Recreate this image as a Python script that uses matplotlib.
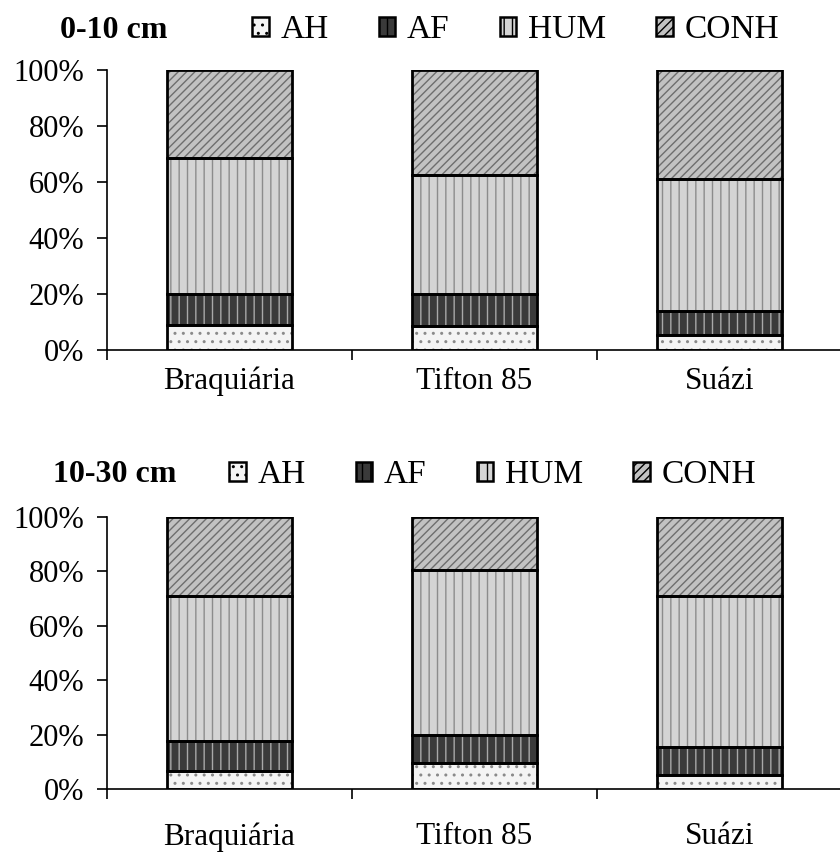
import matplotlib
matplotlib.use("Agg")
import matplotlib.pyplot as plt
from matplotlib.patches import Patch
import numpy as np

plt.rcParams['font.family'] = ['Liberation Serif', 'DejaVu Serif']
plt.rcParams['hatch.linewidth'] = 1.0

categories = ["Braquiária", "Tifton 85", "Suázi"]
series = ["AH", "AF", "HUM", "CONH"]

# 0-10 cm (percent)
top_AH = [9.0, 8.5, 5.5]
top_AF = [11.0, 11.5, 8.5]
top_HUM = [48.5, 42.5, 47.0]
top_CONH = [31.5, 37.5, 39.0]

# 10-30 cm (percent)
bot_AH = [6.5, 9.5, 5.0]
bot_AF = [11.0, 10.5, 10.5]
bot_HUM = [53.5, 60.5, 55.5]
bot_CONH = [29.0, 19.5, 29.0]

titles = ["0-10 cm", "10-30 cm"]
yticks = [0, 20, 40, 60, 80, 100]

styles = {
    "AH":   dict(fc="#f4f4f4", hc="#8a8a8a", hatch=".."),
    "AF":   dict(fc="#3a3a3a", hc="#a8a8a8", hatch="||"),
    "HUM":  dict(fc="#d4d4d4", hc="#8c8c8c", hatch="||"),
    "CONH": dict(fc="#c2c2c2", hc="#6e6e6e", hatch="////"),
}

fig = plt.figure(figsize=(8.4, 8.52), dpi=100)
W, H = 840, 852

def draw(ax_rect, data, title, leg_y, title_x, leg_x, label_pad):
    ax = fig.add_axes(ax_rect)
    x = np.arange(len(categories))
    bottom = np.zeros(len(categories))
    for name, vals in zip(series, data):
        st = styles[name]
        vals = np.array(vals)
        ax.bar(x, vals, 0.51, bottom=bottom, color=st["fc"], edgecolor=st["hc"],
               hatch=st["hatch"], linewidth=0, zorder=2)
        ax.bar(x, vals, 0.51, bottom=bottom, fill=False, edgecolor="black",
               linewidth=2.0, zorder=3)
        bottom = bottom + vals
    ax.set_xlim(-0.5, 2.5)
    ax.set_ylim(0, 100)
    ax.set_yticks(yticks)
    ax.set_yticklabels([f"{v}%" for v in yticks], fontsize=22)
    ax.set_xticks(x)
    ax.set_xticklabels(categories, fontsize=22.5)
    ax.tick_params(axis="x", length=0, pad=label_pad)
    ax.set_xticks([-0.5, 0.5, 1.5, 2.5], minor=True)
    ax.tick_params(axis="x", which="minor", length=7.5, width=1.2, direction="out")
    ax.tick_params(axis="y", length=7.5, width=1.2, direction="out", pad=9)
    for s in ["top", "right"]:
        ax.spines[s].set_visible(False)
    for s in ["left", "bottom"]:
        ax.spines[s].set_linewidth(1.2)
    # legend
    fig.text(title_x / W, 1 - leg_y / H, title, fontsize=23, fontweight="bold",
             va="center", ha="left")
    handles = []
    for name in series:
        st = styles[name]
        handles.append(Patch(facecolor=st["fc"], edgecolor="black", hatch=st["hatch"],
                             linewidth=1.8, label=name))
    fig.legend(handles=handles, loc="center left",
               bbox_to_anchor=(leg_x / W, 1 - leg_y / H), ncol=4, frameon=False,
               fontsize=24, handlelength=0.5, handleheight=0.5,
               handletextpad=0.35, columnspacing=1.5, borderaxespad=0,
               borderpad=0)
    return ax

draw([107 / W, 1 - 350 / H, 735 / W, 280 / H],
     [top_AH, top_AF, top_HUM, top_CONH], titles[0], 30, 60, 252, 12)
draw([107 / W, 1 - 789 / H, 735 / W, 272 / H],
     [bot_AH, bot_AF, bot_HUM, bot_CONH], titles[1], 475, 53, 229, 24)

fig.savefig("out.png", dpi=100)
